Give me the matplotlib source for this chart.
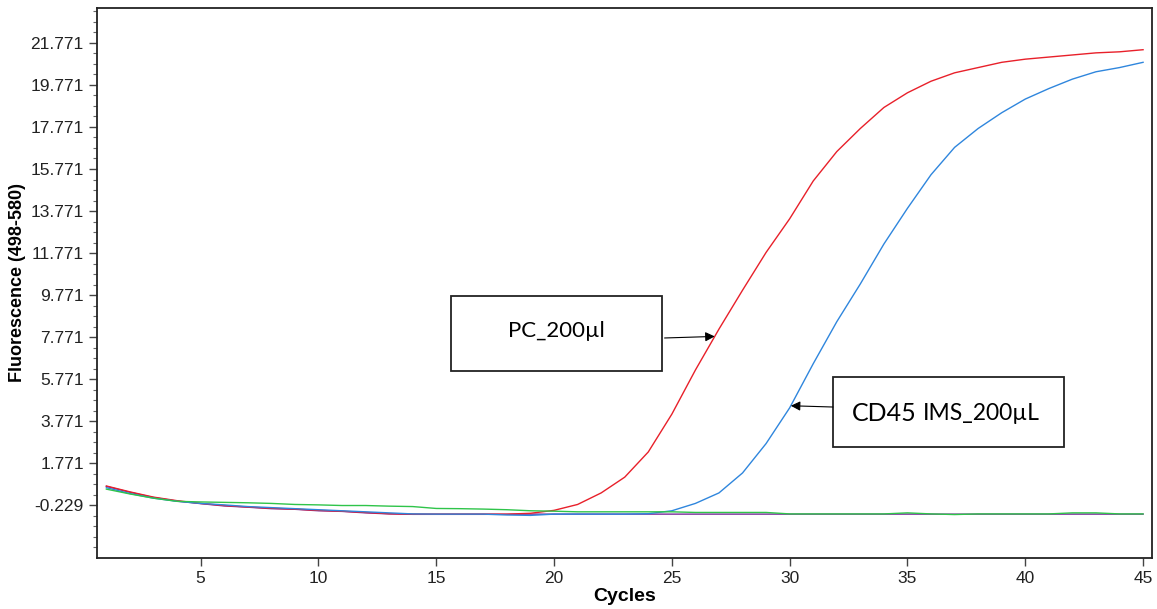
import numpy as np
import matplotlib
matplotlib.use("Agg")
import matplotlib.pyplot as plt
from matplotlib.patches import Rectangle

# ---- data ----
cycles = np.arange(1, 46)

red = [0.68, 0.40, 0.15, -0.02, -0.15, -0.25, -0.32, -0.38, -0.42, -0.48,
       -0.52, -0.58, -0.64, -0.66, -0.66, -0.66, -0.66, -0.66, -0.62, -0.48,
       -0.20, 0.35, 1.10, 2.30, 4.10, 6.20, 8.15, 10.0, 11.8, 13.4,
       15.2, 16.6, 17.7, 18.7, 19.4, 19.95, 20.35, 20.6, 20.85, 21.0,
       21.1, 21.2, 21.3, 21.35, 21.45]

blue = [0.60, 0.32, 0.10, -0.05, -0.15, -0.22, -0.30, -0.35, -0.40, -0.45,
        -0.50, -0.55, -0.60, -0.65, -0.66, -0.66, -0.66, -0.70, -0.72, -0.66,
        -0.66, -0.66, -0.66, -0.64, -0.50, -0.15, 0.35, 1.30, 2.70, 4.40,
        6.50, 8.50, 10.3, 12.2, 13.9, 15.5, 16.8, 17.7, 18.45, 19.1,
        19.6, 20.05, 20.4, 20.6, 20.85]

green = [0.53, 0.30, 0.10, -0.05, -0.08, -0.10, -0.12, -0.15, -0.20, -0.22,
         -0.25, -0.25, -0.28, -0.30, -0.39, -0.40, -0.42, -0.45, -0.50, -0.52,
         -0.55, -0.55, -0.55, -0.55, -0.55, -0.58, -0.58, -0.58, -0.58, -0.65,
         -0.65, -0.65, -0.65, -0.65, -0.60, -0.65, -0.68, -0.65, -0.65, -0.65,
         -0.65, -0.60, -0.60, -0.65, -0.65]

purple = [0.66, 0.38, 0.13, -0.04, -0.16, -0.27, -0.33, -0.40, -0.43, -0.50,
          -0.53, -0.60, -0.65, -0.67, -0.67, -0.67, -0.67, -0.67, -0.66, -0.66,
          -0.66, -0.66, -0.66, -0.66, -0.66, -0.66, -0.66, -0.66, -0.66, -0.66,
          -0.66, -0.66, -0.66, -0.66, -0.66, -0.66, -0.66, -0.66, -0.66, -0.66,
          -0.66, -0.66, -0.66, -0.66, -0.66]

yticks = np.arange(-0.229, 22.0, 2.0)
xticks = [5, 10, 15, 20, 25, 30, 35, 40, 45]

label_pc = "PC_200µl"
label_cd = ("CD45", "IMS_200µL")

tick_font = ["Liberation Sans Narrow", "Liberation Sans", "DejaVu Sans"]
box_font = ["Lato", "DejaVu Sans"]

fig = plt.figure(figsize=(11.57, 6.09), dpi=100)
ax = fig.add_axes([0.0838, 0.0837, 0.9119, 0.9033])

ax.plot(cycles, purple, color="#7a2a9a", lw=1.0)
ax.plot(cycles, red, color="#e8202a", lw=1.0)
ax.plot(cycles, blue, color="#2f86dd", lw=1.0)
ax.plot(cycles, green, color="#2fc44a", lw=1.0)

ax.set_xlim(0.6, 45.38)
ax.set_ylim(-2.75, 23.44)

ax.set_yticks(yticks)
ax.set_yticklabels(["%.3f" % v for v in yticks])
minor = [v for v in np.arange(-2.229, 23.3, 0.5) if min(abs(v - yticks)) > 0.1]
ax.set_yticks(minor, minor=True)
ax.set_xticks(xticks)
ax.set_xticklabels([str(v) for v in xticks])

for lab in ax.get_yticklabels() + ax.get_xticklabels():
    lab.set_family(tick_font)
    lab.set_fontsize(12.5)
    lab.set_color("#222222")

ax.tick_params(axis="both", which="major", length=6, width=1, direction="out",
               color="#444444")
ax.tick_params(axis="y", which="minor", length=3, width=0.8, color="#666666")
for s in ax.spines.values():
    s.set_linewidth(1.3)
    s.set_color("#222222")

ax.set_ylabel("Fluorescence (498-580)", family=tick_font, fontweight="bold",
              fontsize=13, labelpad=3)
ax.set_xlabel("Cycles", family=tick_font, fontweight="bold", fontsize=14,
              labelpad=1)

# annotation boxes
ax.add_patch(Rectangle((0.3355, 0.34), 0.2, 0.1364, transform=ax.transAxes,
                       fill=False, lw=1.3, ec="#222222"))
ax.text(0.435, 0.413, label_pc, transform=ax.transAxes, ha="center",
        va="center", family=box_font, fontsize=16)

ax.add_patch(Rectangle((0.6976, 0.2018), 0.219, 0.1272, transform=ax.transAxes,
                       fill=False, lw=1.3, ec="#222222"))
ax.text(0.777, 0.262, label_cd[0], transform=ax.transAxes, ha="right",
        va="center", family=box_font, fontsize=18)
ax.text(0.7829, 0.262, label_cd[1], transform=ax.transAxes, ha="left",
        va="center", family=box_font, fontsize=16.5)

# arrows pointing to the curves
y_pc = 7.8
x_pc = np.interp(y_pc, red[20:35], cycles[20:35])
ax.annotate("", xy=(x_pc, y_pc), xytext=(0.538, 0.4),
            textcoords="axes fraction",
            arrowprops=dict(arrowstyle="-|>", color="black", lw=0.8,
                            mutation_scale=14, shrinkA=0, shrinkB=0))

y_cd = 4.5
x_cd = np.interp(y_cd, blue[24:40], cycles[24:40])
ax.annotate("", xy=(x_cd, y_cd), xytext=(0.6976, 0.2745),
            textcoords="axes fraction",
            arrowprops=dict(arrowstyle="-|>", color="black", lw=0.8,
                            mutation_scale=14, shrinkA=0, shrinkB=0))

fig.savefig("out.png", dpi=100)
